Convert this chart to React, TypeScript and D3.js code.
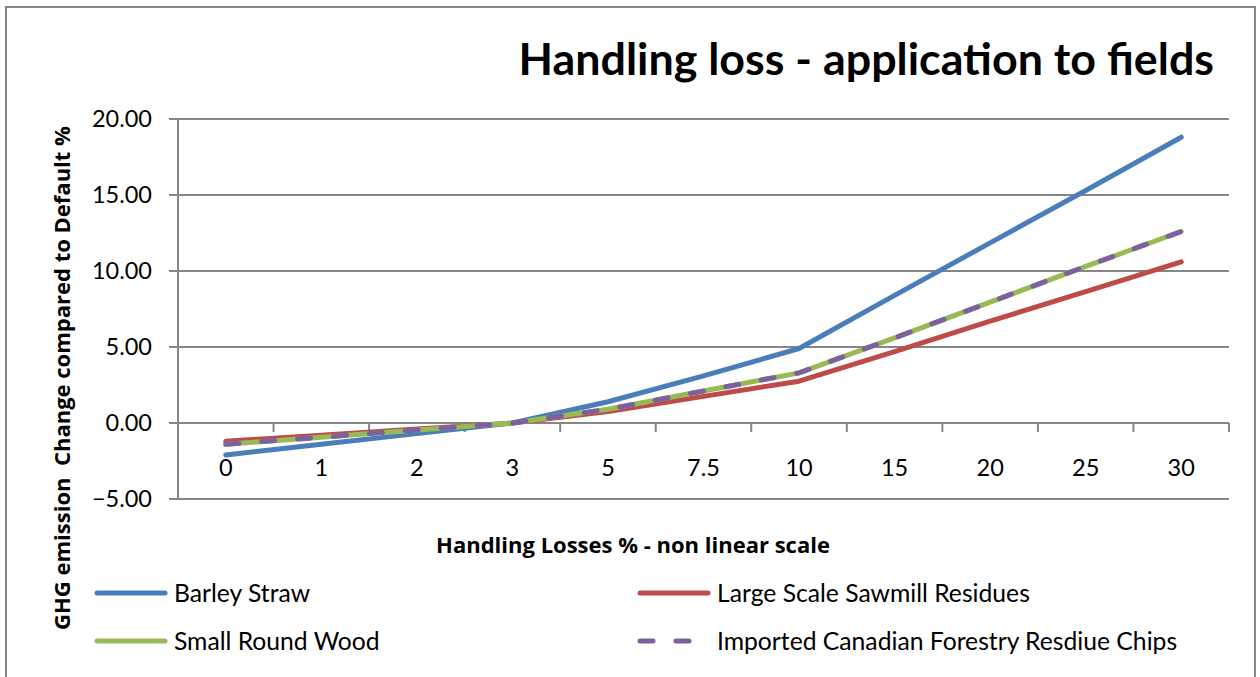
import React from "react";
import * as d3 from "d3";

const categories = ["0", "1", "2", "3", "5", "7.5", "10", "15", "20", "25", "30"];
const barleyStraw = [-2.1, -1.4, -0.7, 0, 1.4, 3.1, 4.9, 8.4, 11.85, 15.3, 18.8];
const sawmillResidues = [-1.2, -0.8, -0.4, 0, 0.75, 1.75, 2.75, 4.7, 6.7, 8.65, 10.6];
const smallRoundWood = [-1.4, -0.93, -0.46, 0, 0.9, 2.1, 3.3, 5.6, 7.95, 10.3, 12.6];
const canadianChips = [-1.4, -0.93, -0.46, 0, 0.9, 2.1, 3.3, 5.6, 7.95, 10.3, 12.6];
const yTicks = [-5, 0, 5, 10, 15, 20];

const seriesNames = [
  "Barley Straw",
  "Large Scale Sawmill Residues",
  "Small Round Wood",
  "Imported Canadian Forestry Resdiue Chips",
];

const W = 1260;
const H = 677;
const plot = { left: 178, right: 1229, top: 119, bottom: 499 };

export default function App() {
  const x = d3
    .scaleBand<string>()
    .domain(categories)
    .range([plot.left, plot.right]);
  const y = d3.scaleLinear().domain([-5, 20]).range([plot.bottom, plot.top]);
  const cx = (c: string) => (x(c) as number) + x.bandwidth() / 2;

  const line = d3
    .line<number>()
    .x((_, i) => cx(categories[i]))
    .y((d) => y(d));

  const series = [
    { name: seriesNames[0], values: barleyStraw, color: "#4A7EBB", dash: undefined },
    { name: seriesNames[1], values: sawmillResidues, color: "#BE4B48", dash: undefined },
    { name: seriesNames[2], values: smallRoundWood, color: "#98B954", dash: undefined },
    { name: seriesNames[3], values: canadianChips, color: "#7D60A0", dash: "13 23" },
  ];

  const font = "Lato, 'Open Sans', sans-serif";
  const boldFont = "'Open Sans', Lato, sans-serif";
  const grid = "#868686";
  const tickBoundaries = d3.range(categories.length + 1).map((i) => plot.left + i * x.step());

  const legendPos = [
    { lx: 97, ly: 593 },
    { lx: 640, ly: 593 },
    { lx: 97, ly: 641 },
    { lx: 640, ly: 641 },
  ];

  return (
    <svg
      width={W}
      height={H}
      style={{ position: "absolute", left: 0, top: 0, background: "#fff" }}
      fontFamily={font}
    >
      <rect x={6} y={7} width={1249} height={680} fill="#fff" stroke="#868686" strokeWidth={2} />
      <text x={1214} y={75} textAnchor="end" fontSize={44.8} fontWeight="bold" fill="#000">
        Handling loss - application to fields
      </text>

      {yTicks.map((t) => (
        <line key={t} x1={plot.left - 9} x2={plot.right} y1={y(t)} y2={y(t)} stroke={grid} strokeWidth={2} />
      ))}
      {yTicks.map((t) => (
        <text key={"l" + t} x={152} y={y(t)} dy="0.35em" textAnchor="end" fontSize={23.5} fill="#000">
          {d3.format(".2f")(t)}
        </text>
      ))}
      <line x1={plot.left} x2={plot.left} y1={plot.top} y2={plot.bottom} stroke={grid} strokeWidth={2} />
      <line x1={plot.left} x2={plot.right} y1={y(0)} y2={y(0)} stroke={grid} strokeWidth={2} />
      {tickBoundaries.map((b, i) => (
        <line key={"t" + i} x1={b} x2={b} y1={y(0)} y2={y(0) + 9} stroke={grid} strokeWidth={2} />
      ))}
      {categories.map((c) => (
        <text key={c} x={cx(c)} y={468} dy="0.35em" textAnchor="middle" fontSize={23.5} fill="#000">
          {c}
        </text>
      ))}

      {series.map((s) => (
        <path
          key={s.name}
          d={line(s.values) || ""}
          fill="none"
          stroke={s.color}
          strokeWidth={5}
          strokeLinecap="round"
          strokeLinejoin="round"
          strokeDasharray={s.dash}
        />
      ))}

      <text x={633} y={545} dy="0.35em" textAnchor="middle" fontSize={22} fontWeight="bold" fill="#000" fontFamily={boldFont}>
        Handling Losses % - non linear scale
      </text>
      <text
        transform={`translate(62,378) rotate(-90)`}
        textAnchor="middle"
        dy="0.35em"
        fontSize={22}
        fontWeight="bold"
        fill="#000"
        fontFamily={boldFont}
        style={{ whiteSpace: "pre" }}
      >
        {"GHG emission  Change compared to Default %"}
      </text>

      {series.map((s, i) => {
        const p = legendPos[i];
        return (
          <g key={"lg" + s.name}>
            <line
              x1={p.lx}
              x2={p.lx + 68}
              y1={p.ly}
              y2={p.ly}
              stroke={s.color}
              strokeWidth={5}
              strokeLinecap="round"
              strokeDasharray={s.dash}
            />
            <text x={p.lx + 77} y={p.ly} dy="0.35em" fontSize={24.7} fill="#000">
              {s.name}
            </text>
          </g>
        );
      })}
    </svg>
  );
}
